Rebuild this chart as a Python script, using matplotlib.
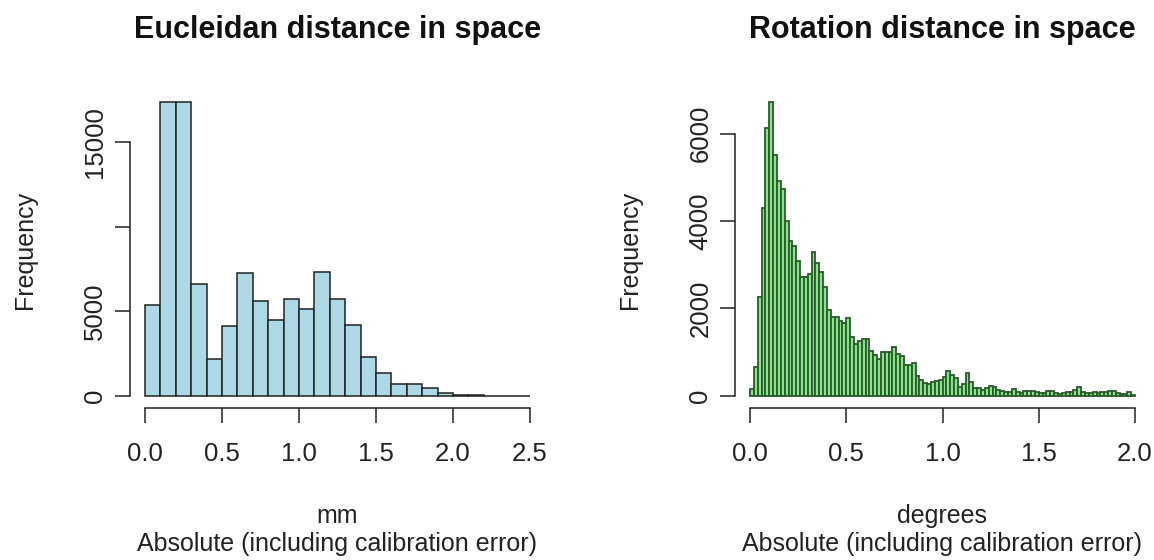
import numpy as np
import matplotlib
matplotlib.use("Agg")
import matplotlib.pyplot as plt

plt.rcParams['font.family'] = ['Liberation Sans', 'DejaVu Sans']

W, H = 1154, 560

# Euclidean distance histogram (mm), bins of 0.1
eu_edges = np.round(np.arange(0, 2.51, 0.1), 2)
eu_counts = [5400, 17400, 17400, 6600, 2150, 4150, 7250, 5600, 4500, 5700,
             5150, 7350, 5700, 4200, 2300, 1350, 700, 700, 450, 180,
             60, 40, 0, 0, 0]
eu_xticks = [0.0, 0.5, 1.0, 1.5, 2.0, 2.5]
eu_yticks = [0, 5000, 10000, 15000]
eu_ylabels = ["0", "5000", "", "15000"]

# Rotation distance histogram (degrees), bins of 0.02
rot_edges = np.round(np.arange(0, 2.001, 0.02), 3)
rot_counts = [150, 660, 2250, 4300, 6120, 6730, 5500, 4920, 4730, 4010,
              3550, 3430, 3090, 2710, 2710, 2790, 3300, 3050, 2840, 2480,
              1960, 1810, 1800, 1700, 1660, 1790, 1340, 1180, 1260, 1300,
              1300, 1030, 940, 840, 1010, 1010, 990, 1110, 950, 920,
              700, 700, 740, 460, 370, 290, 270, 320, 340, 360,
              435, 560, 480, 405, 190, 270, 510, 305, 170, 170,
              130, 170, 230, 200, 130, 100, 75, 75, 155, 75,
              55, 115, 115, 115, 90, 60, 70, 110, 100, 70,
              50, 60, 80, 90, 120, 190, 90, 70, 60, 80,
              60, 80, 90, 110, 100, 70, 40, 30, 80, 20]
rot_xticks = [0.0, 0.5, 1.0, 1.5, 2.0]
rot_yticks = [0, 2000, 4000, 6000]
rot_ylabels = ["0", "2000", "4000", "6000"]

fig = plt.figure(figsize=(W / 100, H / 100), dpi=100)


def px_axes(x0, x1, y0, y1):
    return fig.add_axes([x0 / W, 1 - y1 / H, (x1 - x0) / W, (y1 - y0) / H])


def style_axes(ax, xticks, yticks, ylabels):
    for s in ['top', 'right']:
        ax.spines[s].set_visible(False)
    for s in ['left', 'bottom']:
        ax.spines[s].set_linewidth(1.1)
        ax.spines[s].set_color('#222222')
    ax.spines['bottom'].set_bounds(xticks[0], xticks[-1])
    ax.spines['left'].set_bounds(yticks[0], yticks[-1])
    ax.set_xticks(xticks)
    ax.set_xticklabels([f"{t:.1f}" for t in xticks])
    ax.set_yticks(yticks)
    ax.set_yticklabels(ylabels, rotation=90, va='center')
    ax.tick_params(axis='both', length=11, width=1.1, color='#222222',
                   labelsize=18.5, labelcolor='#222222')
    ax.tick_params(axis='x', pad=14)
    ax.tick_params(axis='y', pad=5)


# left panel
ax1 = px_axes(129.6, 545.4, 90, 407.5)
ax1.bar(eu_edges[:-1], eu_counts, width=0.1, align='edge',
        color='#ADD8E6', edgecolor='#222222', linewidth=1.1)
ax1.set_xlim(-0.1, 2.6)
ax1.set_ylim(-0.04 * max(eu_counts), 1.04 * max(eu_counts))
style_axes(ax1, eu_xticks, eu_yticks, eu_ylabels)

# right panel
ax2 = px_axes(734.6, 1150.4, 90, 407.5)
ax2.bar(rot_edges[:-1], rot_counts, width=0.02, align='edge',
        color='#86E586', edgecolor='#2b5a2b', linewidth=1.3)
ax2.set_xlim(-0.08, 2.08)
ax2.set_ylim(-0.04 * max(rot_counts), 1.04 * max(rot_counts))
style_axes(ax2, rot_xticks, rot_yticks, rot_ylabels)

# titles and labels
for cx, title, unit in [(337.5, "Eucleidan distance in space", "mm"),
                        (942.5, "Rotation distance in space", "degrees")]:
    fig.text(cx / W, 1 - 30 / H, title, ha='center', va='center',
             fontsize=22, fontweight='bold', color='#111111')
    fig.text(cx / W, 1 - 516 / H, unit, ha='center', va='center',
             fontsize=18, color='#222222')
    fig.text(cx / W, 1 - 544 / H, "Absolute (including calibration error)",
             ha='center', va='center', fontsize=18, color='#222222')

fig.text(25 / W, 1 - 250 / H, "Frequency", rotation=90, ha='center',
         va='center', fontsize=18, color='#222222')
fig.text(630 / W, 1 - 250 / H, "Frequency", rotation=90, ha='center',
         va='center', fontsize=18, color='#222222')

fig.savefig("out.png", dpi=100, facecolor='white')
